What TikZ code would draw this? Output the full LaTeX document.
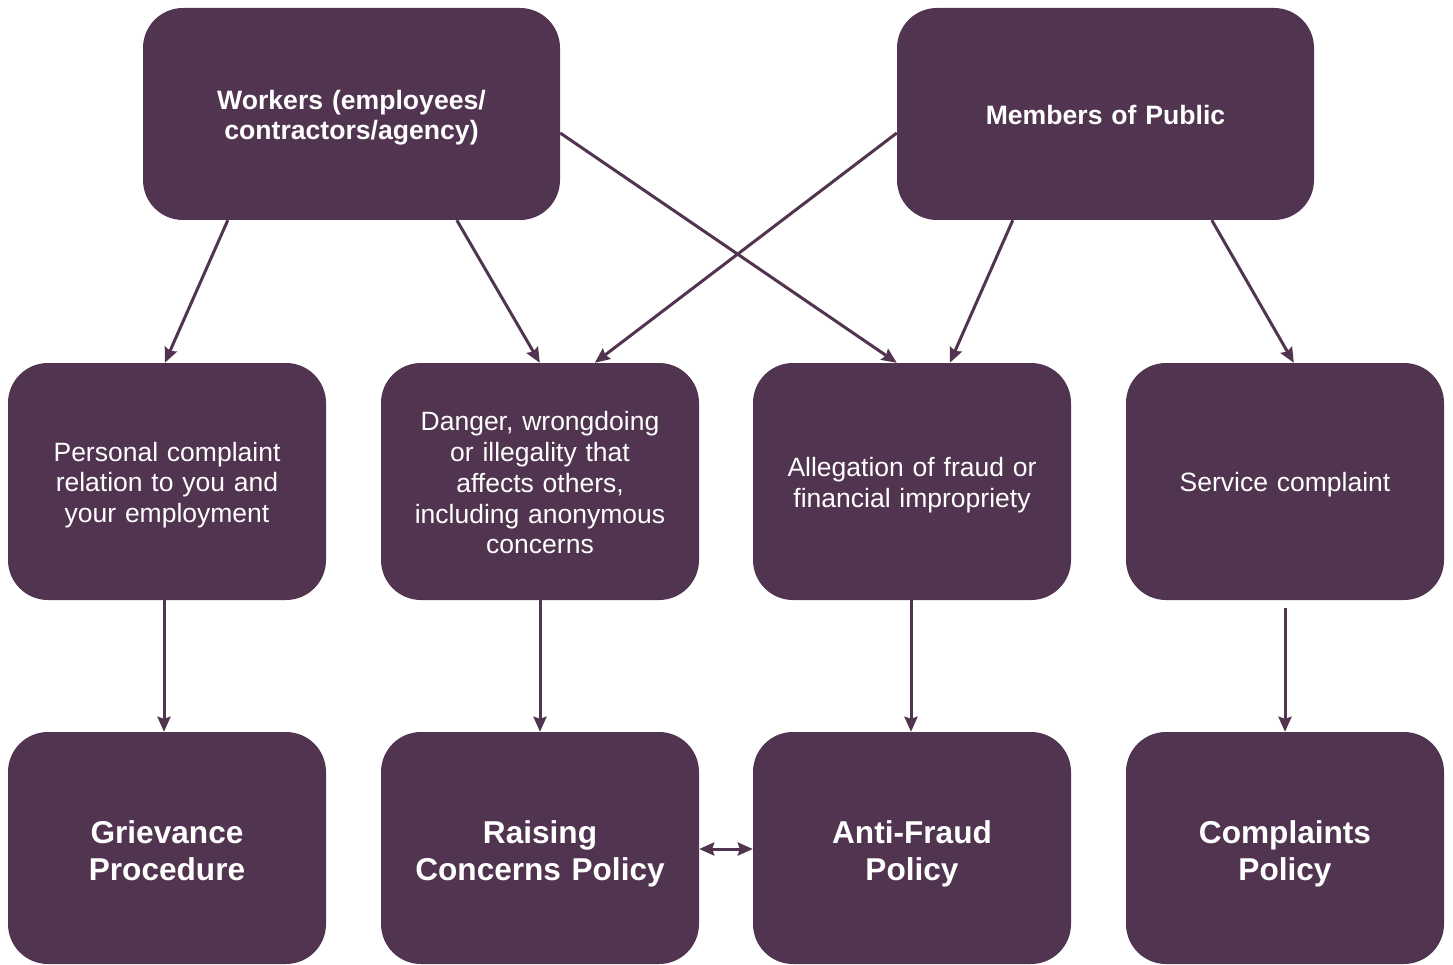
\documentclass[tikz,border=0pt]{standalone}
\usepackage{fontspec}
\setmainfont{Liberation Sans}
\usetikzlibrary{arrows.meta}
\definecolor{plum}{HTML}{51344F}
\tikzset{
  box/.style={fill=plum, rounded corners=40pt, inner sep=0pt, anchor=center},
  topbox/.style={box, minimum width=417pt, minimum height=212pt},
  midbox/.style={box, minimum width=318pt, minimum height=237pt},
  botbox/.style={box, minimum width=318pt, minimum height=232pt},
  txt/.style={inner sep=0pt, text=white, align=center, anchor=center, text width=310pt},
  toptext/.style={txt, font=\fontsize{26.6}{30}\selectfont\bfseries},
  midtext/.style={txt, font=\fontsize{26.5}{30.75}\selectfont},
  bottext/.style={txt, font=\fontsize{31.6}{37}\selectfont\bfseries},
  conn/.style={draw=plum, line width=3pt, -{Stealth[length=15pt,width=13pt,inset=2pt]}},
  dconn/.style={draw=plum, line width=3pt, {Stealth[length=15pt,width=13pt,inset=2pt]}-{Stealth[length=15pt,width=13pt,inset=2pt]}}
}
\begin{document}
\begin{tikzpicture}[x=1pt,y=-1pt]
\useasboundingbox (0,0) rectangle (1453,965);
\node[topbox] (w) at (351.5,114) {};
\node[topbox] (m) at (1105.5,114) {};
\node[midbox] (pc) at (167,481.5) {};
\node[midbox] (dw) at (540,481.5) {};
\node[midbox] (af) at (912,481.5) {};
\node[midbox] (sc) at (1285,481.5) {};
\node[botbox] (gp) at (167,848) {};
\node[botbox] (rc) at (540,848) {};
\node[botbox] (ap) at (912,848) {};
\node[botbox] (cp) at (1285,848) {};
\node[toptext] (wt) at ([yshift=-4pt]w.center) {Workers (employees/\\contractors/agency)};
\node[toptext] (mt) at ([yshift=-1pt]m.center) {Members of Public};
\node[midtext] (pct) at ([yshift=-3.5pt]pc.center) {Personal complaint\\relation to you and\\your employment};
\node[midtext] (dwt) at ([yshift=-1.5pt]dw.center) {Danger, wrongdoing\\or illegality that\\affects others,\\including anonymous\\concerns};
\node[midtext] (aft) at ([yshift=-4pt]af.center) {Allegation of fraud or\\financial impropriety};
\node[midtext] (sct) at ([yshift=-3pt]sc.center) {Service complaint};
\node[bottext] (gpt) at ([yshift=-3pt]gp.center) {Grievance\\Procedure};
\node[bottext] (rct) at ([yshift=-6pt]rc.center) {Raising\\Concerns Policy};
\node[bottext] (apt) at ([yshift=-6pt]ap.center) {Anti-Fraud\\Policy};
\node[bottext] (cpt) at ([yshift=-6pt]cp.center) {Complaints\\Policy};
\draw[conn] ([xshift=85pt]w.south west) -- ([xshift=157pt]pc.north west);
\draw[conn] ([xshift=314pt]w.south west) -- ([xshift=159pt]dw.north west);
\draw[conn] ([yshift=-19pt]w.east) -- ([xshift=144pt]af.north west);
\draw[conn] ([yshift=-19pt]m.west) -- ([xshift=214pt]dw.north west);
\draw[conn] ([xshift=116pt]m.south west) -- ([xshift=197pt]af.north west);
\draw[conn] ([xshift=315pt]m.south west) -- ([xshift=168pt]sc.north west);
\draw[conn] ([xshift=-3pt]pc.south) -- ([xshift=-3pt]gp.north);
\draw[conn] (dw.south) -- (rc.north);
\draw[conn] ([xshift=-1pt]af.south) -- ([xshift=-1pt]ap.north);
\draw[conn] ([yshift=-8pt]sc.south) -- (cp.north);
\draw[dconn] ([yshift=-1pt]rc.east) -- ([yshift=-1pt]ap.west);
\end{tikzpicture}
\end{document}
